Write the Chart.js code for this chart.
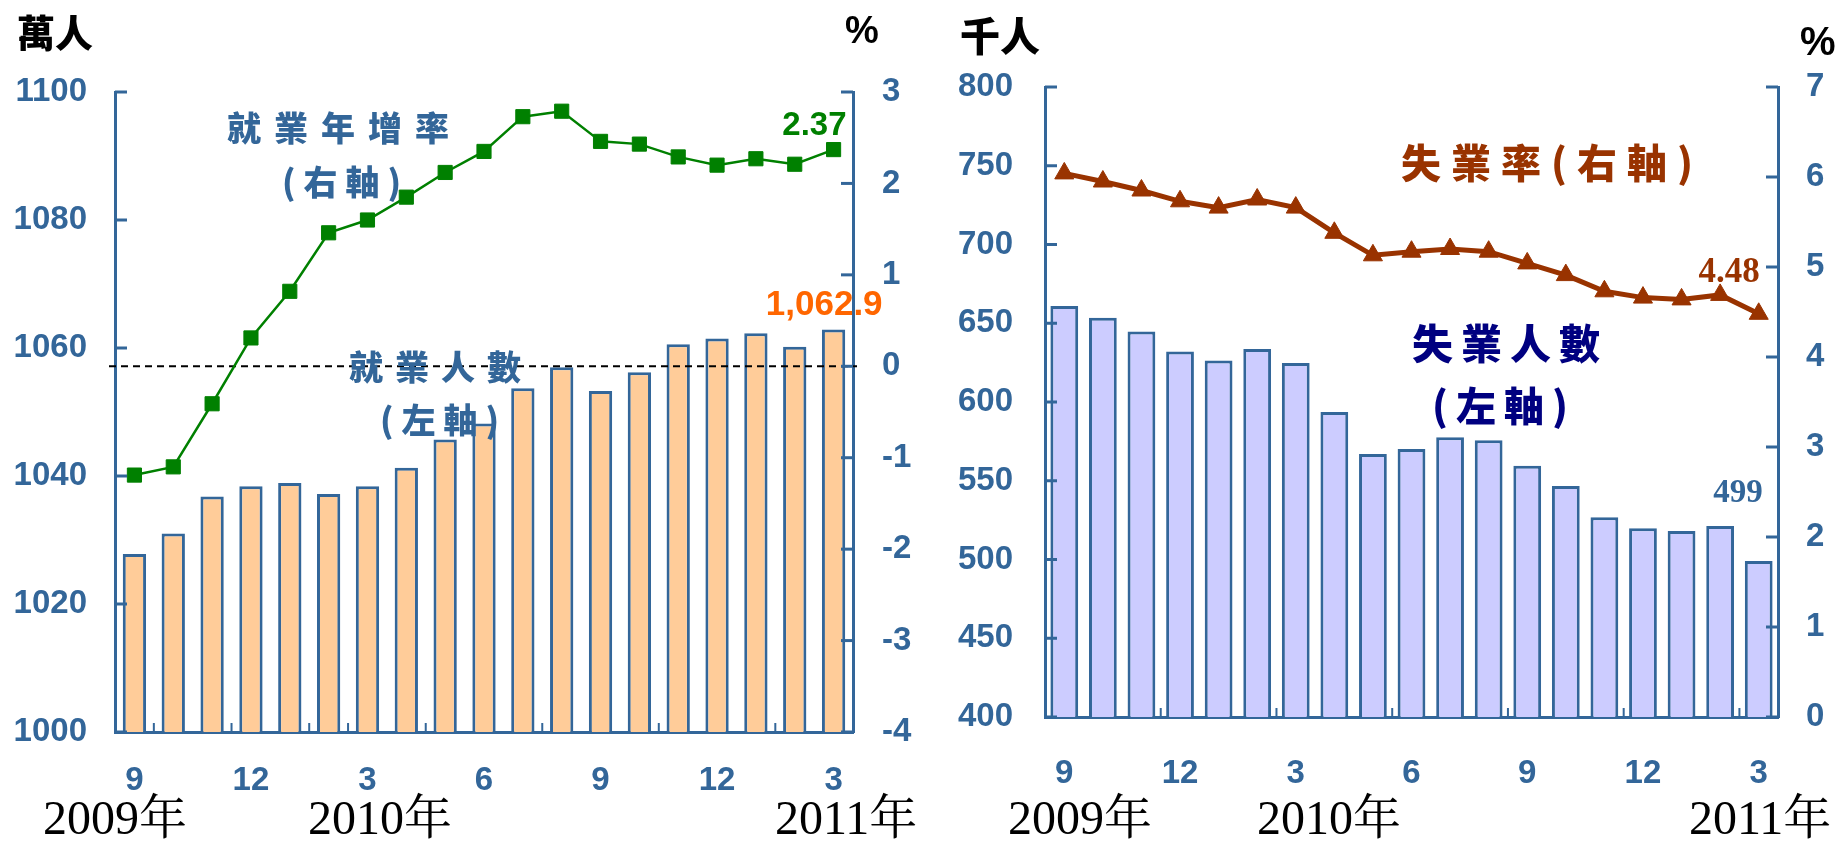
<!DOCTYPE html>
<html>
<head>
<meta charset="utf-8">
<script src="https://cdn.jsdelivr.net/npm/chart.js@4.4.1/dist/chart.umd.min.js"></script>
<style>
  body { margin: 0; background: #fff; }
  #page { position: relative; width: 1841px; height: 841px; overflow: hidden; background: #fff; }
  canvas { position: absolute; top: 0; }
  #leftChart { left: 0; }
  #rightChart { left: 920px; }
  .txt { position: absolute; white-space: nowrap; line-height: 1; }
  .cjk { font-family: 'Noto Sans CJK TC', sans-serif; font-weight: 900; }
  .pct { font-family: 'Liberation Sans', Arial, sans-serif; font-weight: bold; }
  .year { font-family: 'Liberation Serif', 'Noto Serif CJK TC', 'Noto Sans CJK TC', serif; font-size: 48px; color: #000; }
</style>
</head>
<body>
<div id="page">
  <canvas id="leftChart" width="920" height="841"></canvas>
  <canvas id="rightChart" width="921" height="841"></canvas>

  <div class="txt cjk" style="left:17px;top:12px;font-size:38px;">萬人</div>
  <div class="txt pct" style="left:845px;top:11px;font-size:38px;">%</div>
  <div class="txt cjk" style="left:960px;top:14px;font-size:40px;">千人</div>
  <div class="txt pct" style="left:1800px;top:21px;font-size:40px;">%</div>

  <div class="txt cjk" style="left:227px;top:110px;font-size:34px;letter-spacing:13px;color:#336699;">就業年增率</div>
  <div class="txt cjk" style="left:282px;top:164px;font-size:34px;letter-spacing:8px;color:#336699;">(右軸)</div>
  <div class="txt cjk" style="left:349px;top:349px;font-size:34px;letter-spacing:12px;color:#336699;">就業人數</div>
  <div class="txt cjk" style="left:380px;top:402px;font-size:34px;letter-spacing:8px;color:#336699;">(左軸)</div>

  <div class="txt cjk" style="left:1401px;top:141px;font-size:40px;letter-spacing:10px;color:#993300;">失業率(右軸)</div>
  <div class="txt cjk" style="left:1412px;top:321px;font-size:41px;letter-spacing:8px;color:#000080;">失業人數</div>
  <div class="txt cjk" style="left:1432px;top:384px;font-size:40px;letter-spacing:8px;color:#000080;">(左軸)</div>

  <div class="txt year" style="left:43px;top:794px;">2009年</div>
  <div class="txt year" style="left:308px;top:794px;">2010年</div>
  <div class="txt year" style="left:775px;top:794px;">2011年</div>
  <div class="txt year" style="left:1008px;top:794px;">2009年</div>
  <div class="txt year" style="left:1257px;top:794px;">2010年</div>
  <div class="txt year" style="left:1689px;top:794px;">2011年</div>
</div>

<script>
// months from 2009/9 to 2011/3
const months = ['9', '10', '11', '12', '1', '2', '3', '4', '5', '6', '7', '8', '9', '10', '11', '12', '1', '2', '3'];

// employed persons (10k) and yoy growth (%)
const employed = [1027.8, 1031.0, 1036.8, 1038.4, 1038.9, 1037.2, 1038.4, 1041.3, 1045.7, 1048.2,
  1053.7, 1057.0, 1053.3, 1056.2, 1060.6, 1061.5, 1062.3, 1060.2, 1062.9];
const employedGrowth = [-1.19, -1.10, -0.41, 0.31, 0.82, 1.46, 1.60, 1.85, 2.12, 2.35,
  2.73, 2.79, 2.46, 2.43, 2.29, 2.20, 2.27, 2.21, 2.37];

// unemployed persons (1k) and unemployment rate (%)
const unemployed = [661, 653.5, 644.7, 632.1, 626.4, 633.7, 624.8, 593.7, 567.0, 570.2,
  577.6, 575.7, 559.6, 546.7, 526.8, 519.8, 518.1, 521.3, 499];
const unemploymentRate = [6.04, 5.95, 5.85, 5.73, 5.66, 5.75, 5.66, 5.38, 5.13, 5.17,
  5.20, 5.17, 5.04, 4.91, 4.73, 4.66, 4.64, 4.69, 4.48];

const AXIS = '#336699';
const SANS = "'Liberation Sans', Arial, sans-serif";
const SERIF = "'Liberation Serif', 'Times New Roman', serif";

// inward tick marks on both value axes + small marks on the category axis
const axisTicks = {
  id: 'axisTicks',
  afterDraw(chart, args, opts) {
    const ctx = chart.ctx;
    ctx.save();
    ctx.strokeStyle = AXIS;
    ctx.lineWidth = 3;
    ['y', 'y1'].forEach(id => {
      const s = chart.scales[id];
      const x0 = id === 'y' ? s.right : s.left;
      const dir = id === 'y' ? 1 : -1;
      s.ticks.forEach(t => {
        const y = s.getPixelForValue(t.value);
        ctx.beginPath();
        ctx.moveTo(x0, y);
        ctx.lineTo(x0 + dir * 12, y);
        ctx.stroke();
      });
    });
    const xs = chart.scales.x;
    const bottom = chart.chartArea.bottom;
    ctx.lineWidth = 2;
    (opts.marks || []).forEach(i => {
      const x = (xs.getPixelForValue(i - 1) + xs.getPixelForValue(i)) / 2;
      ctx.beginPath();
      ctx.moveTo(x, bottom);
      ctx.lineTo(x, bottom - 9);
      ctx.stroke();
    });
    ctx.restore();
  }
};

// dashed zero line for the growth axis, drawn over the bars
const zeroLine = {
  id: 'zeroLine',
  afterDatasetDraw(chart, args, opts) {
    if (!opts.show || args.meta.type !== 'bar') return;
    const ctx = chart.ctx;
    const y = chart.scales.y1.getPixelForValue(0);
    ctx.save();
    ctx.strokeStyle = '#000';
    ctx.lineWidth = 2;
    ctx.setLineDash([7, 5]);
    ctx.beginPath();
    ctx.moveTo(chart.chartArea.left - 6, y);
    ctx.lineTo(chart.chartArea.right + 4, y);
    ctx.stroke();
    ctx.restore();
  }
};

// labels for the latest values
const lastLabels = {
  id: 'lastLabels',
  afterDatasetsDraw(chart, args, opts) {
    const ctx = chart.ctx;
    ctx.save();
    ctx.textAlign = 'right';
    ctx.textBaseline = 'alphabetic';
    (opts.items || []).forEach(it => {
      const meta = chart.getDatasetMeta(it.dataset);
      const el = meta.data[meta.data.length - 1];
      ctx.font = it.font;
      ctx.fillStyle = it.color;
      ctx.fillText(it.text, el.x + it.dx, el.y + it.dy);
    });
    ctx.restore();
  }
};

function valueAxis(pos, min, max, step, width, pad) {
  return {
    position: pos,
    min: min,
    max: max,
    grid: { display: true, drawOnChartArea: false, drawTicks: false },
    border: { color: AXIS, width: 3 },
    ticks: {
      stepSize: step,
      padding: pad,
      color: AXIS,
      format: { useGrouping: false },
      font: { family: SANS, size: 33, weight: 'bold' }
    },
    afterFit: s => { s.width = width; }
  };
}

function monthAxis(height, pad) {
  return {
    offset: true,
    grid: { display: true, drawOnChartArea: false, drawTicks: false },
    border: { color: AXIS, width: 3 },
    ticks: {
      autoSkip: false,
      maxRotation: 0,
      padding: pad,
      color: AXIS,
      font: { family: SANS, size: 33, weight: 'bold' },
      callback: (v, i) => (i % 3 === 0 ? months[i] : '')
    },
    afterFit: s => { s.height = height; }
  };
}

const last = arr => arr[arr.length - 1];

new Chart(document.getElementById('leftChart'), {
  data: {
    labels: months,
    datasets: [
      {
        type: 'line',
        data: employedGrowth,
        yAxisID: 'y1',
        order: 0,
        borderColor: '#008000',
        borderWidth: 2.5,
        pointStyle: 'rect',
        pointRadius: 10,
        pointBackgroundColor: '#008000',
        pointBorderColor: '#008000',
        pointBorderWidth: 1,
        tension: 0
      },
      {
        type: 'bar',
        data: employed,
        yAxisID: 'y',
        order: 1,
        backgroundColor: '#FFCC99',
        borderColor: AXIS,
        borderWidth: 3,
        borderSkipped: 'start',
        barPercentage: 0.6,
        categoryPercentage: 1
      }
    ]
  },
  options: {
    responsive: false,
    animation: false,
    layout: { padding: { top: 92, left: 0, right: 0, bottom: 0 } },
    plugins: {
      legend: { display: false },
      tooltip: { enabled: false },
      axisTicks: { marks: [1, 3, 5, 6, 8, 11, 14, 17] },
      zeroLine: { show: true },
      lastLabels: {
        items: [
          { dataset: 0, text: last(employedGrowth).toFixed(2), font: `bold 33px ${SANS}`, color: '#008000', dx: 13, dy: -15 },
          { dataset: 1, text: last(employed).toLocaleString('en-US', { minimumFractionDigits: 1 }), font: `bold 35px ${SANS}`, color: '#FF6600', dx: 49, dy: -14 }
        ]
      }
    },
    scales: {
      x: monthAxis(109, 29),
      y: valueAxis('left', 1000, 1100, 20, 115, 28),
      y1: valueAxis('right', -4, 3, 1, 67, 29)
    }
  },
  plugins: [axisTicks, zeroLine, lastLabels]
});

new Chart(document.getElementById('rightChart'), {
  data: {
    labels: months,
    datasets: [
      {
        type: 'line',
        data: unemploymentRate,
        yAxisID: 'y1',
        order: 0,
        borderColor: '#993300',
        borderWidth: 5,
        pointStyle: 'triangle',
        pointRadius: 11,
        pointBackgroundColor: '#993300',
        pointBorderColor: '#993300',
        pointBorderWidth: 1,
        tension: 0
      },
      {
        type: 'bar',
        data: unemployed,
        yAxisID: 'y',
        order: 1,
        backgroundColor: '#CCCCFF',
        borderColor: AXIS,
        borderWidth: 3,
        borderSkipped: 'start',
        barPercentage: 0.72,
        categoryPercentage: 1
      }
    ]
  },
  options: {
    responsive: false,
    animation: false,
    layout: { padding: { top: 87, left: 0, right: 0, bottom: 0 } },
    plugins: {
      legend: { display: false },
      tooltip: { enabled: false },
      axisTicks: { marks: [3, 6, 9, 12, 15, 18] },
      zeroLine: { show: false },
      lastLabels: {
        items: [
          { dataset: 0, text: last(unemploymentRate).toFixed(2), font: `bold 35px ${SERIF}`, color: '#993300', dx: 1, dy: -32 },
          { dataset: 1, text: String(last(unemployed)), font: `bold 33px ${SERIF}`, color: AXIS, dx: 4, dy: -59 }
        ]
      }
    },
    scales: {
      x: monthAxis(124, 37),
      y: valueAxis('left', 400, 800, 50, 125, 32),
      y1: valueAxis('right', 0, 7, 1, 63, 28)
    }
  },
  plugins: [axisTicks, zeroLine, lastLabels]
});
</script>
</body>
</html>
